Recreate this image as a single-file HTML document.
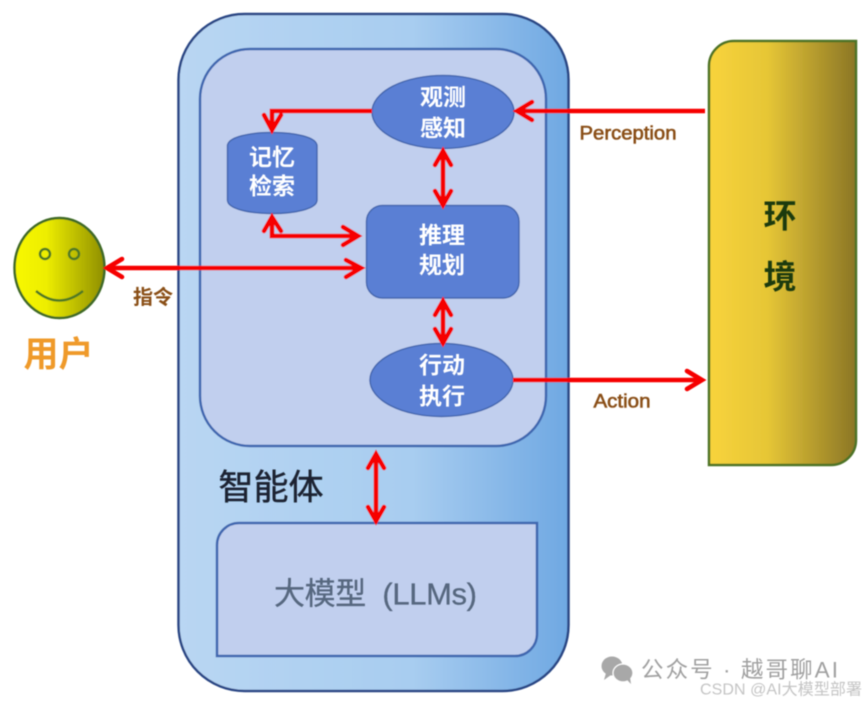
<!DOCTYPE html>
<html><head><meta charset="utf-8"><style>html,body{margin:0;padding:0;background:#fff}svg{display:block}text{font-family:"Liberation Sans","Noto Sans CJK SC",sans-serif;text-anchor:middle;dominant-baseline:central}</style></head><body>
<svg width="865" height="705" viewBox="0 0 865 705" xmlns="http://www.w3.org/2000/svg">
<defs>
<linearGradient id="o"><stop offset="0" stop-color="#b9d6f3"/><stop offset=".6" stop-color="#a8cdf0"/><stop offset="1" stop-color="#6fa8e2"/></linearGradient>
<linearGradient id="y"><stop offset="0" stop-color="#f8f800"/><stop offset=".35" stop-color="#eeee00"/><stop offset="1" stop-color="#8f8f00"/></linearGradient>
<linearGradient id="e"><stop offset="0" stop-color="#f8d33c"/><stop offset=".4" stop-color="#e6c636"/><stop offset="1" stop-color="#8b7626"/></linearGradient>
<filter id="b" x="-5%" y="-5%" width="110%" height="110%"><feGaussianBlur stdDeviation=".4"/></filter>
</defs>
<g filter="url(#b)">
<rect x="178.500" y="14" width="390" height="677" rx="66" fill="url(#o)" stroke="#2a4785" stroke-width="2.500"/>
<rect x="200" y="49" width="346" height="397" rx="50" fill="#c1cfee" stroke="#3f68b0" stroke-width="2.500"/>
<path d="M239 523H537V634A22 22 0 0 1 515 656H217V545A22 22 0 0 1 239 523Z" fill="#c1cfee" stroke="#3f68b0" stroke-width="2.500"/>
<path d="M734 41H856V440A25 25 0 0 1 831 465H709V66A25 25 0 0 1 734 41Z" fill="url(#e)" stroke="#4d7327" stroke-width="2.500"/>
<ellipse cx="59.500" cy="268" rx="45" ry="50" fill="url(#y)" stroke="#3f6b26" stroke-width="2.500"/>
<circle cx="45" cy="254" r="5" fill="none" stroke="#4f7a22" stroke-width="2.500"/>
<circle cx="74" cy="254" r="5" fill="none" stroke="#4f7a22" stroke-width="2.500"/>
<path d="M36 291Q59 310 83 291" fill="none" stroke="#4f7a22" stroke-width="2.500"/>
<ellipse cx="443" cy="112" rx="71" ry="36.500" fill="#5a7fd4" stroke="#4468b0" stroke-width="1.500"/>
<ellipse cx="441.500" cy="380" rx="71.500" ry="36.500" fill="#5a7fd4" stroke="#4468b0" stroke-width="1.500"/>
<rect x="366.500" y="205.500" width="152.500" height="92.500" rx="16" fill="#5a7fd4" stroke="#4468b0" stroke-width="1.500"/>
<path d="M227.500 146C227.500 128 317 128 317 146V200C317 218 227.500 218 227.500 200Z" fill="#5a7fd4" stroke="#4468b0" stroke-width="1.500"/>
<g fill="none" stroke="#f60000" stroke-width="4.600" stroke-linejoin="miter" stroke-linecap="round">
<path d="M372 111H272V129" stroke-linecap="butt"/><path d="M264 115L272 130L281 115"/>
<path d="M272 218V236H357" stroke-linecap="butt"/><path d="M264 231L272 217L281 231M343 227L358 236L343 245"/>
<path d="M108 268H360" stroke-linecap="butt"/><path d="M122 259L107 268L122 277M346 260L361 268L346 277"/>
<path d="M443 152V204" stroke-linecap="butt"/><path d="M435 165L443 151L451 165M435 191L443 205L451 191"/>
<path d="M443 302V342" stroke-linecap="butt"/><path d="M435 315L443 301L451 315M435 329L443 343L451 329"/>
<path d="M376 455V520" stroke-linecap="butt"/><path d="M368 468L376 454L384 468M368 507L376 521L384 507"/>
<path d="M705 111H519" stroke-linecap="butt"/><path d="M532 102L517 111L532 120"/>
<path d="M513 380H700" stroke-linecap="butt"/><path d="M687 371L702 380L687 389"/>
</g>
</g>
<g filter="url(#b)" font-weight="bold">
<g fill="#fff" font-size="23"><text x="443" y="97">观测</text><text x="443" y="128">感知</text><text x="272" y="157">记忆</text><text x="272" y="186">检索</text><text x="442" y="235">推理</text><text x="442" y="265">规划</text><text x="442" y="365">行动</text><text x="442" y="396">执行</text></g>
<g fill="#1e3a10" font-size="33"><text x="780" y="216">环</text><text x="780" y="277">境</text></g>
<text x="271" y="488" font-size="35" fill="#1b2433" font-weight="normal" stroke="#1b2433" stroke-width=".5">智能体</text>
<text x="375.500" y="594" font-size="31" fill="#56677f" font-weight="normal" stroke="#56677f" stroke-width=".3" xml:space="preserve" textLength="203" lengthAdjust="spacing">大模型  (LLMs)</text>
<text x="58.500" y="355" font-size="35" fill="#ef9a2c">用户</text>
<text x="153" y="298" font-size="20" fill="#8a4f17">指令</text>
<text x="628" y="134" font-size="19" fill="#8a4f17" font-weight="normal" stroke="#8a4f17" stroke-width=".6" textLength="97" lengthAdjust="spacingAndGlyphs">Perception</text>
<text x="622" y="402" font-size="19" fill="#8a4f17" font-weight="normal" stroke="#8a4f17" stroke-width=".6" textLength="57" lengthAdjust="spacingAndGlyphs">Action</text>
</g>
<g filter="url(#b)">
<ellipse cx="612" cy="666" rx="10.500" ry="9.500" fill="#a8a8a8"/><path d="M606 673L604 680L611 675Z" fill="#a8a8a8"/>
<ellipse cx="623" cy="673" rx="10" ry="9" fill="#a8a8a8" stroke="#fff" stroke-width="1.200"/><path d="M627 680L631 684L630 677Z" fill="#a8a8a8"/>
<text x="739.500" y="670" font-size="22.500" fill="#a0a0a0" xml:space="preserve" textLength="197" lengthAdjust="spacing">公众号 · 越哥聊AI</text>
<text x="781" y="690" font-size="16" fill="#c4c4c4" textLength="162" lengthAdjust="spacing">CSDN @AI大模型部署</text>
</g>
</svg>
</body></html>
